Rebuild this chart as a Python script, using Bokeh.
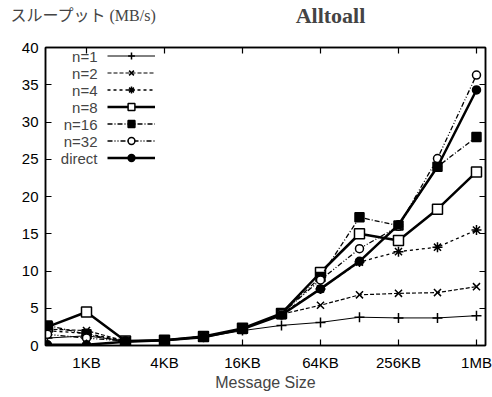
from bokeh.plotting import figure
from bokeh.models import (Range1d, FixedTicker, LinearAxis, LogAxis, Label, Legend,
                          LegendItem, CustomJSTickFormatter)
from bokeh.embed import file_html
from bokeh.resources import INLINE

# ---- data ----
sizes_kb = [0.5, 1, 2, 4, 8, 16, 32, 64, 128, 256, 512, 1024]
tick_kb = [1, 4, 16, 64, 256, 1024]
tick_labels = ["1KB", "4KB", "16KB", "64KB", "256KB", "1MB"]
y_ticks = [0, 5, 10, 15, 20, 25, 30, 35, 40]
names = ["n=1", "n=2", "n=4", "n=8", "n=16", "n=32", "direct"]

n1 = [1.0, 1.3, 0.6, 0.7, 1.1, 2.0, 2.7, 3.1, 3.8, 3.7, 3.7, 4.0]
n2 = [2.2, 2.0, 0.6, 0.7, 1.2, 2.2, 4.2, 5.4, 6.8, 7.0, 7.1, 7.9]
n4 = [2.0, 1.6, 0.6, 0.7, 1.2, 2.2, 4.3, 7.6, 11.2, 12.6, 13.2, 15.5]
n8 = [2.5, 4.5, 0.6, 0.7, 1.2, 2.3, 4.3, 9.8, 15.0, 14.1, 18.3, 23.3]
n16 = [2.7, 1.5, 0.5, 0.7, 1.2, 2.2, 4.2, 9.2, 17.2, 16.1, 24.0, 28.0]
n32 = [1.5, 1.0, 0.6, 0.7, 1.2, 2.2, 4.3, 8.8, 13.0, 16.0, 25.1, 36.3]
direct = [0.1, 0.1, 0.5, 0.7, 1.1, 2.2, 4.1, 7.6, 11.3, 16.2, 24.0, 34.3]

p = figure(width=492, height=397, output_backend="svg", toolbar_location=None,
           x_axis_type="log", x_range=Range1d(0.4825, 1202), y_range=Range1d(0, 40),
           min_border_left=45, min_border_right=7, min_border_top=47, min_border_bottom=52)
p.grid.visible = False
p.outline_line_color = "black"
p.outline_line_width = 1.5
p.background_fill_color = "white"

FONT = "Liberation Sans"

xa = p.xaxis[0]
xa.ticker = FixedTicker(ticks=tick_kb)
xa.major_label_overrides = {k: l for k, l in zip(tick_kb, tick_labels)}
xa.axis_label = "Message Size"
ya = p.yaxis[0]
ya.ticker = FixedTicker(ticks=y_ticks)

for ax in (xa, ya):
    ax.major_tick_in = 6
    ax.major_tick_out = 0
    ax.minor_tick_line_color = None
    ax.axis_line_width = 1.5
    ax.major_tick_line_width = 1.2
    ax.major_label_text_font = FONT
    ax.major_label_text_font_size = "15px"
    ax.major_label_text_color = "black"
    ax.axis_label_text_font = FONT
    ax.axis_label_text_font_size = "16px"
    ax.axis_label_text_font_style = "normal"
xa.major_label_standoff = 8
xa.axis_label_standoff = 0
ya.major_label_standoff = 7

blank = CustomJSTickFormatter(code="return ''")
ra = LinearAxis(ticker=FixedTicker(ticks=y_ticks), major_tick_in=6, major_tick_out=0,
                formatter=blank, major_label_standoff=0,
                axis_line_width=1.5, major_tick_line_width=1.2, minor_tick_line_color=None)
p.add_layout(ra, "right")
ta = LogAxis(ticker=FixedTicker(ticks=tick_kb), major_tick_in=6, major_tick_out=0,
             formatter=CustomJSTickFormatter(code="return ''"), major_label_standoff=0,
             axis_line_width=1.5, major_tick_line_width=1.2, minor_tick_line_color=None)
p.add_layout(ta, "above")

styles = [
    (n1, dict(line_width=1, line_dash="solid"), dict(marker="cross", size=10, fill_color="black")),
    (n2, dict(line_width=1.2, line_dash="4 2"), dict(marker="x", size=10, fill_color="black")),
    (n4, dict(line_width=1.3, line_dash="3 3"), dict(marker="asterisk", size=10, fill_color="black")),
    (n8, dict(line_width=2.5, line_dash="solid"), dict(marker="square", size=10, fill_color="white")),
    (n16, dict(line_width=1.3, line_dash="5 2 1 2"), dict(marker="square", size=9, fill_color="black")),
    (n32, dict(line_width=1.3, line_dash="5 2 1 2 1 2"), dict(marker="circle", size=8, fill_color="white")),
    (direct, dict(line_width=2.5, line_dash="solid"), dict(marker="circle", size=8, fill_color="black")),
]
items = []
for name, (ys, lkw, mkw) in zip(names, styles):
    r1 = p.line(sizes_kb, ys, line_color="black", **lkw)
    r2 = p.scatter(sizes_kb, ys, line_color="black", line_width=1.5, **mkw)
    items.append(LegendItem(label=" ", renderers=[r1, r2]))

lg = Legend(items=items, location=(62, 298 - 7 * 17), glyph_width=48, glyph_height=17,
            label_height=17, spacing=0, padding=0, margin=0, border_line_color=None,
            background_fill_alpha=0, label_standoff=0, label_text_font_size="14px")
p.add_layout(lg, "center")

for i, name in enumerate(names):
    p.add_layout(Label(x=52, y=289.5 - 17 * i, x_units="screen", y_units="screen", text=name,
                       text_font=FONT, text_font_size="15px", text_align="right",
                       text_baseline="middle"))

p.add_layout(Label(x=-35, y=32, x_units="screen", y_units="screen", text="スループット (MB/s)",
                   text_font="Liberation Serif, Noto Sans CJK JP", text_font_size="16px",
                   text_baseline="middle"), "above")
p.add_layout(Label(x=285, y=15, x_units="screen", y_units="screen", text="Alltoall",
                   text_font="Liberation Serif", text_font_size="22px", text_font_style="bold",
                   text_align="center", text_baseline="middle"), "above")

open("out.html", "w").write(file_html(p, INLINE))
